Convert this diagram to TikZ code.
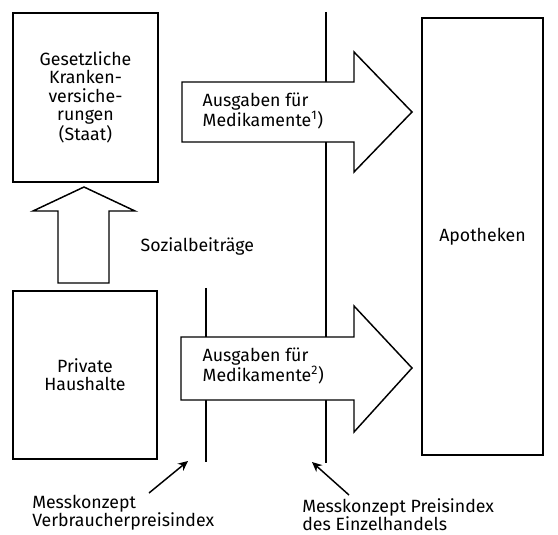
\documentclass[tikz,border=0pt]{standalone}
\usepackage{fontspec}
\setmainfont{Fira Sans}
\usepackage{tikz}
\usetikzlibrary{positioning,arrows.meta}
\usepackage{xcolor}

\begin{document}
\begin{tikzpicture}[x=0.75pt,y=-0.75pt,>={Stealth[length=2.6mm,width=2.4mm]},
  font=\fontsize{13.3}{13.7}\selectfont,
  box/.style={draw,line width=1.1pt,align=center,inner sep=0pt},
  blockarrow/.style={draw,fill=white,line width=1.1pt,line join=miter},
  mline/.style={line width=1.4pt},
  note/.style={anchor=west,align=left,inner sep=0pt}]
\useasboundingbox (0,0) rectangle (558,535);
% Sektoren
\node[box,minimum width=108.75pt,minimum height=126.75pt] (gkv) at (85.5,97.5) {Gesetzliche\\Kranken-\\versiche-\\rungen\\(Staat)};
\node[box,minimum width=108pt,minimum height=126pt] (ph) at (85,375) {Private\\Haushalte};
\node[box,minimum width=90.75pt,minimum height=327.75pt] (apo) at (482.5,236.5) {Apotheken};
% Messgrenzen
\coordinate (vpitop) at (206,288);
\coordinate (vpibot) at (206,462);
\coordinate (ezhtop) at (326,12);
\coordinate (ezhbot) at (326,463);
\draw[mline] (vpitop) -- (vpibot);
\draw[mline] (ezhtop) -- (ezhbot);
% Stroeme
\draw[blockarrow] (58,283) -- (58,211) -- (33,211) -- (84,187) -- (135,211) -- (109,211) -- (109,283) -- cycle;
\node[anchor=west] (sb) at (136,246) {Sozialbeiträge};
\draw[blockarrow] (182,82) -- (354,82) -- (354,52) -- (412,112) -- (354,172) -- (354,142) -- (182,142) -- cycle;
\node[anchor=west,align=left] (aus1) at (198,111) {Ausgaben für\\Medikamente\textsuperscript{1})};
\draw[blockarrow] (181,337) -- (354,337) -- (354,306) -- (412,368) -- (354,432) -- (354,400) -- (181,400) -- cycle;
\node[anchor=west,align=left] (aus2) at (198,366) {Ausgaben für\\Medikamente\textsuperscript{2})};
% Messkonzepte
\node[note] (vpi) at (32,513) {Messkonzept\\Verbraucherpreisindex};
\node[note] (ezh) at (302,515) {Messkonzept Preisindex\\des Einzelhandels};
\coordinate (vpitail) at (149,493);
\coordinate (vpitip) at (188,461);
\coordinate (ezhtail) at (349,495);
\coordinate (ezhtip) at (312,462);
\draw[->,line width=1.1pt] (vpitail) -- (vpitip);
\draw[->,line width=1.1pt] (ezhtail) -- (ezhtip);
\end{tikzpicture}
\end{document}
